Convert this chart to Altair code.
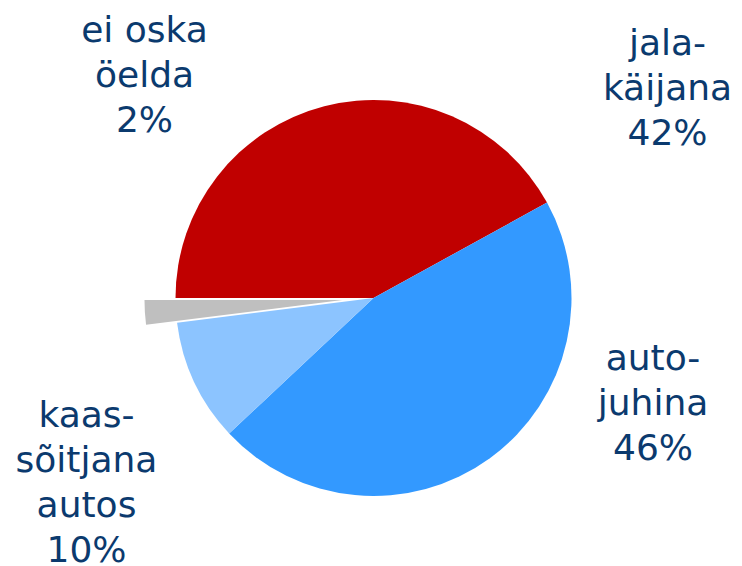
import math
import altair as alt
import pandas as pd

# ---- data ----
categories = ["jalakäijana", "autojuhina", "kaassõitjana autos", "ei oska öelda"]
values = [42, 46, 10, 2]
label_texts = [
    "jala-\nkäijana\n42%",
    "auto-\njuhina\n46%",
    "kaas-\nsõitjana\nautos\n10%",
    "ei oska\nöelda\n2%",
]
colors = ["#C00000", "#3399FF", "#8CC4FF", "#BFBFBF"]

# ---- layout (chart pixel coords, plot origin at page 8,8) ----
CX, CY, R = 365.5, 290, 198
EXPLODE_DX, EXPLODE_DY = -31, 2
label_xy = [(659.5, 47), (645, 362), (78.5, 419), (136.5, 34)]

df = pd.DataFrame({
    "cat": categories,
    "value": values,
    "order": list(range(len(categories))),
})
lab = pd.DataFrame({
    "cat": categories,
    "text": label_texts,
    "lx": [p[0] for p in label_xy],
    "ly": [p[1] for p in label_xy],
})

start = 3 * math.pi / 2
theta_scale = alt.Scale(domain=[0, sum(values)], range=[start, start + 2 * math.pi])
color_scale = alt.Scale(domain=categories, range=colors)

base = alt.Chart(df).transform_stack(
    stack="value", groupby=[], as_=["v0", "v1"],
    sort=[alt.SortField("order", order="ascending")],
)

main = base.transform_filter(alt.datum.cat != "ei oska öelda").mark_arc(
    radius=R
).encode(
    theta=alt.Theta("v0:Q", scale=theta_scale),
    theta2="v1:Q",
    color=alt.Color("cat:N", scale=color_scale, legend=None),
    x=alt.value(CX), y=alt.value(CY),
)

gray = base.transform_filter(alt.datum.cat == "ei oska öelda").mark_arc(
    radius=R
).encode(
    theta=alt.Theta("v0:Q", scale=theta_scale),
    theta2="v1:Q",
    color=alt.Color("cat:N", scale=color_scale, legend=None),
    x=alt.value(CX + EXPLODE_DX), y=alt.value(CY + EXPLODE_DY),
)

labels = alt.Chart(lab).mark_text(
    font="DejaVu Sans", fontSize=36, color="#0B3A6E", align="center",
    baseline="alphabetic", lineBreak="\n", lineHeight=45,
).encode(
    x=alt.X("lx:Q", scale=None, axis=None),
    y=alt.Y("ly:Q", scale=None, axis=None),
    text="text:N",
)

chart = alt.layer(main, gray, labels).properties(
    width=726, height=558, padding=0, autosize="none",
    background="white",
).configure_view(stroke=None)

chart.save("out.html", embed_options={"renderer": "svg", "actions": False})
